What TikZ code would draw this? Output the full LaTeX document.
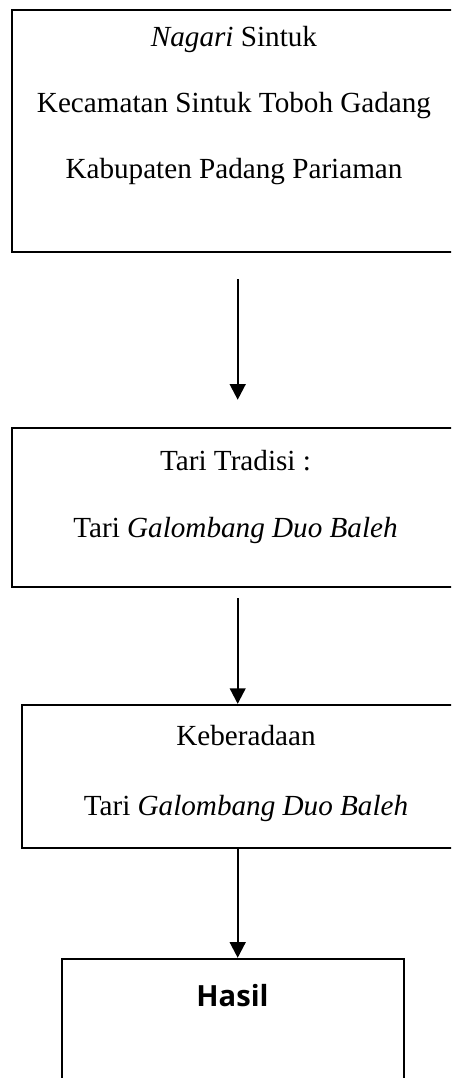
\documentclass[tikz,border=0pt]{standalone}
\usepackage{fontspec}
\setmainfont{Liberation Serif}
\newfontfamily\hasilfont{Open Sans}
\usetikzlibrary{arrows.meta}

\begin{document}
\begin{tikzpicture}[x=0.48pt, y=-0.48pt,
		kotak/.style={draw, line width=1.1pt, inner sep=0pt},
		teks/.style={anchor=base, inner sep=0pt, font=\fontsize{14}{17}\selectfont},
		panah/.style={line width=1.1pt, -{Triangle[length=7.5pt, width=7.5pt]}}]
		\useasboundingbox (0,0) rectangle (451,1078);
		\clip (0,0) rectangle (451,1078);
		
		\node[kotak, minimum width=213.1pt, minimum height=116.2pt] (lokasi) at (234,131) {};
		\node[kotak, minimum width=214.1pt, minimum height=76.3pt]  (tradisi) at (235,507.5) {};
		\node[kotak, minimum width=215.0pt, minimum height=68.6pt]  (keberadaan) at (246,776.5) {};
		\node[kotak, minimum width=164.2pt, minimum height=67.7pt]  (hasil) at (233,1029.5) {};
		
		\node[teks] (lokasiA) at (234,47)  {\emph{Nagari} Sintuk};
		\node[teks] (lokasiB) at (234,113) {Kecamatan Sintuk Toboh Gadang};
		\node[teks] (lokasiC) at (234,179) {Kabupaten Padang Pariaman};
		\node[teks] (tradisiA) at (235.5,470) {Tari Tradisi :};
		\node[teks] (tradisiB) at (235.5,537) {Tari \emph{Galombang Duo Baleh}};
		\node[teks] (keberadaanA) at (246,745) {Keberadaan};
		\node[teks] (keberadaanB) at (246,815) {Tari \emph{Galombang Duo Baleh}};
		\node[teks, font=\hasilfont\bfseries\fontsize{14}{17}\selectfont] (hasilA) at (232.5,1006) {Hasil};
		
		\coordinate (jalur) at (237.7,0);
		\draw[panah, shorten <=12.5pt, shorten >=13pt] (jalur |- lokasi.south) -- (jalur |- tradisi.north);
		\draw[panah, shorten <=4.8pt] (jalur |- tradisi.south) -- (jalur |- keberadaan.north);
		\draw[panah] (jalur |- keberadaan.south) -- (jalur |- hasil.north);
	\end{tikzpicture}
\end{document}
